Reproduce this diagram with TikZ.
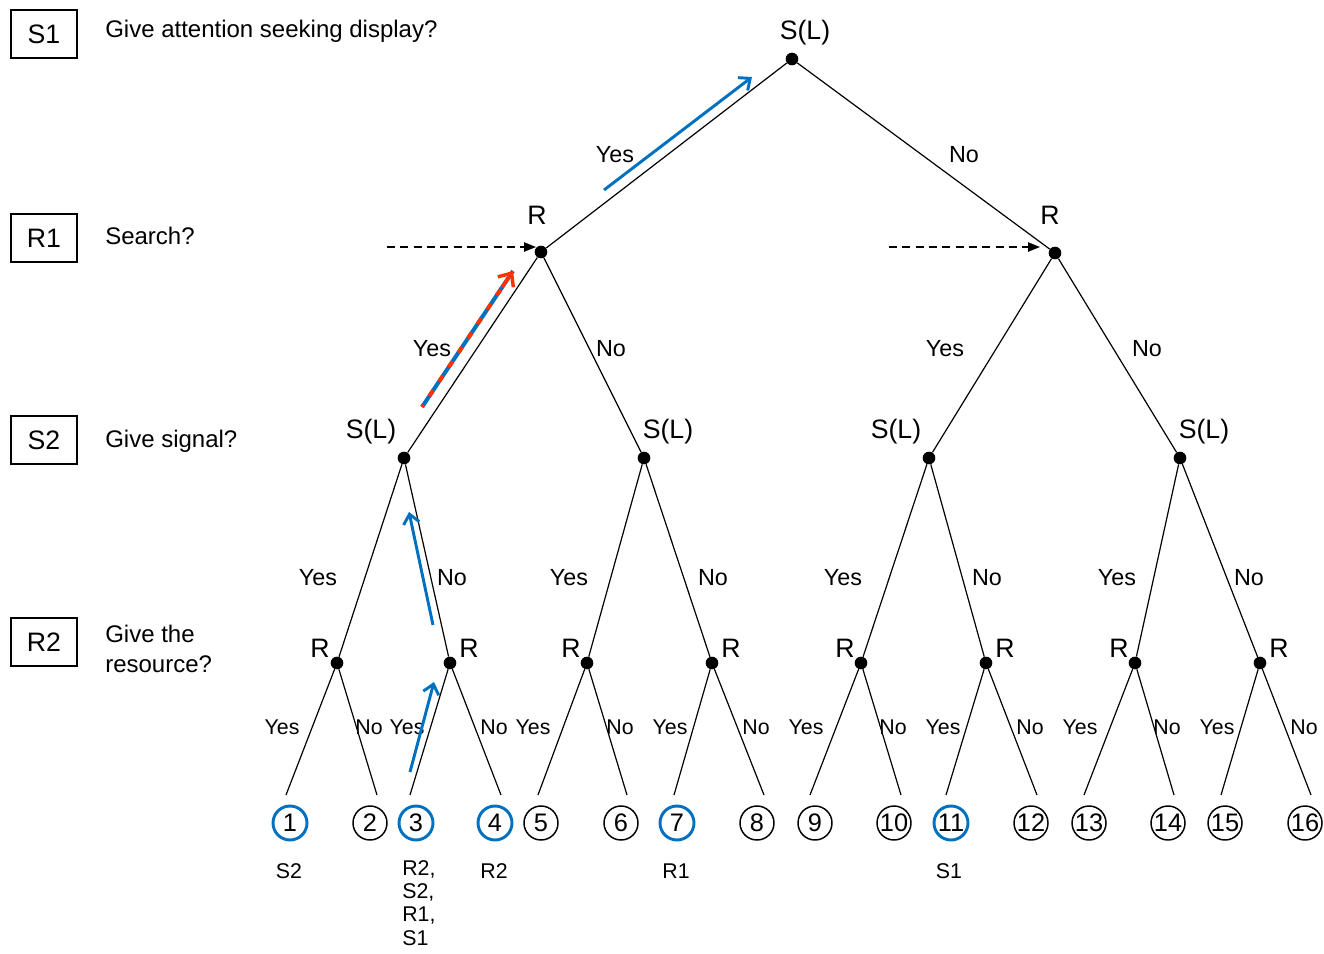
\documentclass[tikz,border=0pt]{standalone}
\usepackage{fontspec}
\setmainfont{Liberation Sans}
\usetikzlibrary{arrows.meta,calc}
\definecolor{pblue}{RGB}{0,112,192}
\definecolor{pred}{RGB}{255,51,0}
\begin{document}
\begin{tikzpicture}[x=0.75pt,y=-0.75pt,
  dot/.style={circle,fill=black,inner sep=0pt,minimum size=9.5pt},
  big/.style={inner sep=0pt,font=\fontsize{18}{21}\selectfont},
  lab/.style={inner sep=0pt,font=\fontsize{20}{23}\selectfont},
  yn/.style={inner sep=0pt,font=\fontsize{17.5}{20}\selectfont},
  ynsmall/.style={inner sep=0pt,font=\fontsize{16}{18.5}\selectfont},
  leaf/.style={circle,draw=black,line width=1.1pt,minimum size=25.5pt,inner sep=0pt,font=\fontsize{19}{22}\selectfont},
  bleaf/.style={leaf,draw=pblue,line width=2.2pt},
  boxlab/.style={draw=black,line width=0.8pt,minimum width=49.5pt,minimum height=36pt,inner sep=0pt,font=\fontsize{20}{23}\selectfont},
  edge/.style={line width=0.9pt},
  barrow/.style={draw=pblue,line width=2.2pt,-{Straight Barb[length=7pt,width=12pt]}},
  darrow/.style={line width=1pt,dashed,dash pattern=on 6pt off 4pt,-{Triangle[length=9pt,width=7pt]}}
]
\useasboundingbox (0,0) rectangle (1324,953);

% left legend
\node[boxlab] (b1) at (44,34) {S1};
\node[boxlab] (b2) at (44,238) {R1};
\node[boxlab] (b3) at (44,440) {S2};
\node[boxlab] (b4) at (44,642) {R2};
\node[big,anchor=west] (q1) at (105,31) {Give attention seeking display?};
\node[big,anchor=west] (q2) at (105,236) {Search?};
\node[big,anchor=west] (q3) at (105,441) {Give signal?};
\node[big,anchor=west,align=left] (q4) at (105,649) {Give the\\[1pt]resource?};

% tree nodes
\node[dot] (n0) at (792,59) {};
\node[dot] (n1) at (541,252) {};
\node[dot] (n2) at (1055,253) {};
\node[dot] (n3) at (404,458) {};
\node[dot] (n4) at (644,458) {};
\node[dot] (n5) at (929,458) {};
\node[dot] (n6) at (1180,458) {};
\node[dot] (m1) at (337,663) {};
\node[dot] (m2) at (450,663) {};
\node[dot] (m3) at (587,663) {};
\node[dot] (m4) at (712,663) {};
\node[dot] (m5) at (861,663) {};
\node[dot] (m6) at (986,663) {};
\node[dot] (m7) at (1135,663) {};
\node[dot] (m8) at (1260,663) {};

% node labels
\node[lab] (l0) at (805,33) {S(L)};
\node[lab] (l1) at (537,215) {R};
\node[lab] (l2) at (1050,215) {R};
\node[lab] (l3) at (371,432) {S(L)};
\node[lab] (l4) at (668,432) {S(L)};
\node[lab] (l5) at (896,432) {S(L)};
\node[lab] (l6) at (1204,432) {S(L)};
\node[lab] (k1) at (320,648) {R};
\node[lab] (k2) at (469,648) {R};
\node[lab] (k3) at (571,648) {R};
\node[lab] (k4) at (731,648) {R};
\node[lab] (k5) at (845,648) {R};
\node[lab] (k6) at (1005,648) {R};
\node[lab] (k7) at (1119,648) {R};
\node[lab] (k8) at (1279,648) {R};

% leaf line ends
\foreach \i/\x in {1/286,2/377,3/410,4/501,5/538,6/627,7/674,8/764,9/810,10/901,11/946,12/1037,13/1084,14/1174,15/1221,16/1311}
  \coordinate (e\i) at (\x,795);

% edges
\draw[edge] (n0) -- (n1);
\draw[edge] (n0) -- (n2);
\draw[edge] (n1) -- (n3);
\draw[edge] (n1) -- (n4);
\draw[edge] (n2) -- (n5);
\draw[edge] (n2) -- (n6);
\draw[edge] (n3) -- (m1);
\draw[edge] (n3) -- (m2);
\draw[edge] (n4) -- (m3);
\draw[edge] (n4) -- (m4);
\draw[edge] (n5) -- (m5);
\draw[edge] (n5) -- (m6);
\draw[edge] (n6) -- (m7);
\draw[edge] (n6) -- (m8);
\draw[edge] (m1) -- (e1);
\draw[edge] (m1) -- (e2);
\draw[edge] (m2) -- (e3);
\draw[edge] (m2) -- (e4);
\draw[edge] (m3) -- (e5);
\draw[edge] (m3) -- (e6);
\draw[edge] (m4) -- (e7);
\draw[edge] (m4) -- (e8);
\draw[edge] (m5) -- (e9);
\draw[edge] (m5) -- (e10);
\draw[edge] (m6) -- (e11);
\draw[edge] (m6) -- (e12);
\draw[edge] (m7) -- (e13);
\draw[edge] (m7) -- (e14);
\draw[edge] (m8) -- (e15);
\draw[edge] (m8) -- (e16);

% Yes/No labels
\node[yn] (y01) at (615,155) {Yes};
\node[yn] (y02) at (964,155) {No};
\node[yn] (y11) at (432,349) {Yes};
\node[yn] (y12) at (611,349) {No};
\node[yn] (y13) at (945,349) {Yes};
\node[yn] (y14) at (1147,349) {No};
\node[yn] (y21) at (318,578) {Yes};
\node[yn] (y22) at (452,578) {No};
\node[yn] (y23) at (569,578) {Yes};
\node[yn] (y24) at (713,578) {No};
\node[yn] (y25) at (843,578) {Yes};
\node[yn] (y26) at (987,578) {No};
\node[yn] (y27) at (1117,578) {Yes};
\node[yn] (y28) at (1249,578) {No};
\foreach \i/\x/\t in {1/282/Yes,2/369/No,3/407/Yes,4/494/No,5/533/Yes,6/620/No,7/670/Yes,8/756/No,9/806/Yes,10/893/No,11/943/Yes,12/1030/No,13/1080/Yes,14/1167/No,15/1217/Yes,16/1304/No}
  \node[ynsmall] (z\i) at (\x,727) {\t};

% leaves
\node[bleaf] (c1) at (290,823) {1};
\node[leaf] (c2) at (370,823) {2};
\node[bleaf] (c3) at (416,823) {3};
\node[bleaf] (c4) at (495,823) {4};
\node[leaf] (c5) at (541,823) {5};
\node[leaf] (c6) at (621,823) {6};
\node[bleaf] (c7) at (677,823) {7};
\node[leaf] (c8) at (757,823) {8};
\node[leaf] (c9) at (815,823) {9};
\node[leaf] (c10) at (894,823) {10};
\node[bleaf] (c11) at (951,823) {11};
\node[leaf] (c12) at (1031,823) {12};
\node[leaf] (c13) at (1089,823) {13};
\node[leaf] (c14) at (1168,823) {14};
\node[leaf] (c15) at (1225,823) {15};
\node[leaf] (c16) at (1305,823) {16};

% under-leaf labels
\node[ynsmall] (u1) at (289,871) {S2};
\node[inner sep=0pt,font=\fontsize{16}{17.5}\selectfont,anchor=north west,align=left] (u3) at (402,860) {R2,\\S2,\\R1,\\S1};
\node[ynsmall] (u4) at (494,871) {R2};
\node[ynsmall] (u7) at (676,871) {R1};
\node[ynsmall] (u11) at (949,871) {S1};

% dashed arrows
\coordinate (d1s) at (387,247);
\coordinate (d1e) at (536,247);
\coordinate (d2s) at (889,247);
\coordinate (d2e) at (1040,247);
\draw[darrow] (d1s) -- (d1e);
\draw[darrow] (d2s) -- (d2e);

% blue arrows
\coordinate (a1s) at (604,190);
\coordinate (a1e) at (752,77);
\draw[barrow] (a1s) -- (a1e);
\coordinate (a2s) at (433,625);
\coordinate (a2e) at (409,512);
\draw[barrow] (a2s) -- (a2e);
\coordinate (a3s) at (410,772);
\coordinate (a3e) at (434,682);
\draw[barrow] (a3s) -- (a3e);

% red/blue dashed arrow
\coordinate (a4s) at (422,407);
\coordinate (a4e) at (513,271);
\coordinate (a4m) at ($(a4s)!0.88!(a4e)$);
\draw[draw=pblue,line width=3pt] (a4s) -- (a4e);
\draw[draw=pred,line width=3pt,dash pattern=on 5pt off 8pt,dash phase=3pt] (a4s) -- (a4m);
\draw[draw=pred,line width=2.6pt,-{Straight Barb[length=8pt,width=14pt]}] (a4m) -- (a4e);
\end{tikzpicture}
\end{document}
